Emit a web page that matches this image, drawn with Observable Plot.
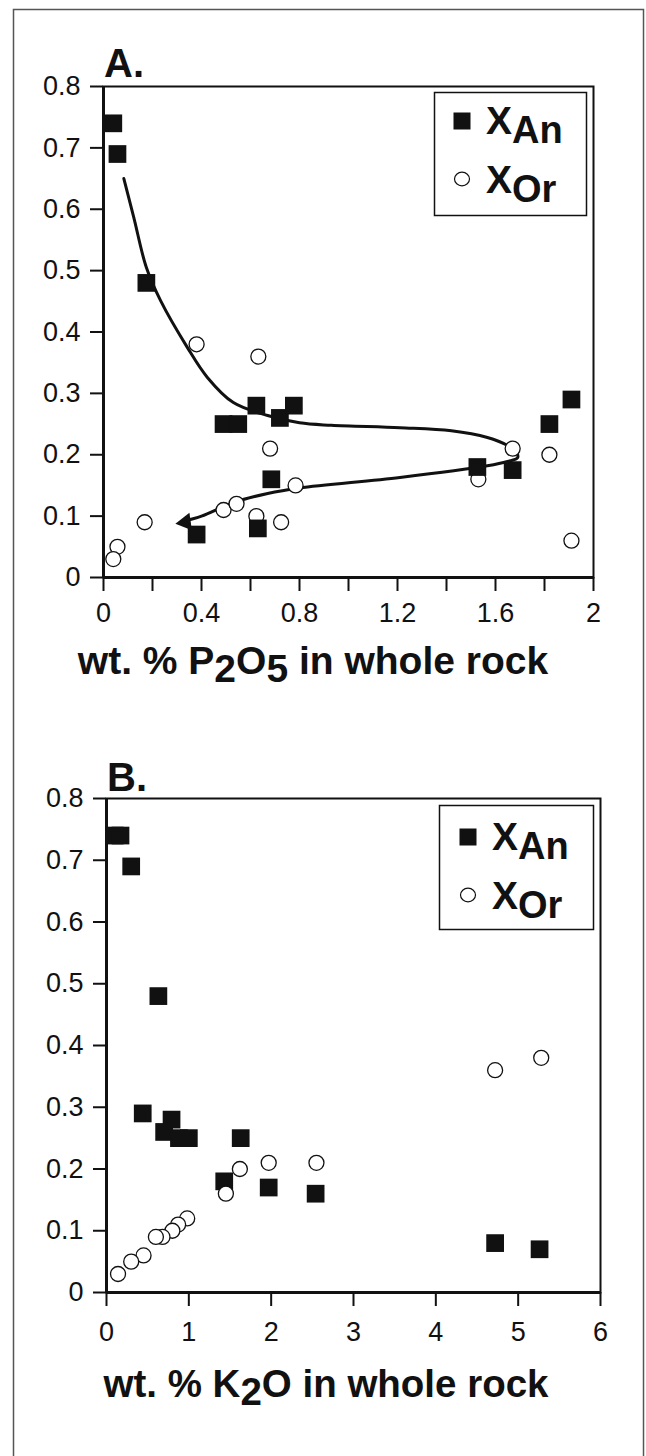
<!DOCTYPE html>
<html><head><meta charset="utf-8">
<script src="https://cdn.jsdelivr.net/npm/d3@7"></script>
<script src="https://cdn.jsdelivr.net/npm/@observablehq/plot@0.6"></script>
<style>
body{margin:0;background:#fff;}
#fig{position:relative;width:646px;height:1456px;overflow:hidden;font-family:"Liberation Sans",Arial,Helvetica,sans-serif;}
#fig > div.p{position:absolute;left:0;}
#overlay{position:absolute;left:0;top:0;pointer-events:none;}
#pa svg text, #pb svg text{font-size:27px !important;font-family:"Liberation Sans",Arial,Helvetica,sans-serif !important;}
</style></head>
<body><div id="fig"><div class="p" id="pa" style="top:40px"></div><div class="p" id="pb" style="top:750px"></div></div>
<script>
// ---------- Panel A data (x = wt.% P2O5) ----------
const anP2O5 = [0.04,0.057,0.175,0.49,0.55,0.624,0.72,0.777,0.685,0.38,0.63,1.526,1.67,1.82,1.91];
const anA    = [0.74,0.69,0.48,0.25,0.25,0.28,0.26,0.28,0.16,0.07,0.08,0.18,0.175,0.25,0.29];
const orP2O5 = [0.38,0.632,0.68,0.784,0.49,0.543,0.624,0.725,0.168,0.057,0.04,1.67,1.53,1.82,1.91];
const orA    = [0.38,0.36,0.21,0.15,0.11,0.12,0.10,0.09,0.09,0.05,0.03,0.21,0.16,0.20,0.06];
// hand-drawn trend curve (upper branch down to the turn, then lower branch back left)
const trendX = [0.083,0.124,0.175,0.233,0.342,0.424,0.53,0.67,0.80,0.93,1.21,1.42,1.567,1.649,1.686,1.69,1.649,1.567,1.21,0.80,0.67,0.53,0.40,0.33];
const trendY = [0.65,0.586,0.505,0.451,0.375,0.326,0.285,0.264,0.252,0.248,0.244,0.239,0.228,0.215,0.204,0.195,0.189,0.182,0.163,0.146,0.137,0.122,0.10,0.092];
const arrowX = [0.335];
const arrowY = [0.09];
const xTicksA = [0,0.4,0.8,1.2,1.6,2];
const xLabelsA = ["0","0.4","0.8","1.2","1.6","2"];
const xMinorA = [0.2,0.6,1.0,1.4,1.8];

// ---------- Panel B data (x = wt.% K2O) ----------
const anK2O = [0.10,0.17,0.30,0.63,0.44,0.79,0.70,0.88,1.0,1.63,1.43,1.97,2.54,4.72,5.26];
const anB   = [0.74,0.74,0.69,0.48,0.29,0.28,0.26,0.25,0.25,0.25,0.18,0.17,0.16,0.08,0.07];
const orK2O = [4.72,5.28,2.55,1.97,1.62,1.45,0.98,0.87,0.80,0.68,0.60,0.45,0.30,0.14];
const orB   = [0.36,0.38,0.21,0.21,0.20,0.16,0.12,0.11,0.10,0.09,0.09,0.06,0.05,0.03];
const xTicksB = [0,1,2,3,4,5,6];
const xLabelsB = ["0","1","2","3","4","5","6"];

// shared y ticks
const yTicks = [0,0.1,0.2,0.3,0.4,0.5,0.6,0.7,0.8];
const yLabels = ["0","0.1","0.2","0.3","0.4","0.5","0.6","0.7","0.8"];

const FONT = '"Liberation Sans", Arial, Helvetica, sans-serif';
const INK = "#111";
const zip = (xs, ys) => xs.map((x, i) => ({x, y: ys[i]}));
const fmt = (ticks, labels) => d => labels[ticks.indexOf(d)];

function panel({xdomain, xticks, xlabels, xminor, an, or, trend, arrow, mt, mb, ml, mr, circlesOnTop, xPad}) {
  const marks = [
    Plot.frame({stroke: INK, strokeWidth: 2}),
    Plot.axisY({ticks: yTicks, tickFormat: fmt(yTicks, yLabels), tickSize: 13, tickPadding: 10, strokeWidth: 2, label: null}),
    Plot.axisX({ticks: xticks, tickFormat: fmt(xticks, xlabels), tickSize: 14, tickPadding: xPad, strokeWidth: 2, label: null}),
  ];
  if (xminor) marks.push(Plot.axisX({ticks: xminor, text: null, tickSize: 14, strokeWidth: 2, label: null}));
  marks.push(Plot.ruleX([xdomain[0]], {stroke: INK, strokeWidth: 3}));
  marks.push(Plot.ruleY([0], {stroke: INK, strokeWidth: 3}));
  if (trend) {
    marks.push(Plot.line(trend, {x: "x", y: "y", curve: "catmull-rom", stroke: INK, strokeWidth: 3}));
    marks.push(Plot.dot(arrow, {x: "x", y: "y", symbol: "triangle2", r: 8.5, rotate: -98, fill: INK}));
  }
  const sq = Plot.dot(an, {x: "x", y: "y", symbol: "square", r: 10, fill: INK});
  const ci = Plot.dot(or, {x: "x", y: "y", symbol: "circle", r: 7.5, fill: "white", stroke: INK, strokeWidth: 1.3});
  if (circlesOnTop) marks.push(sq, ci); else marks.push(ci, sq);
  return Plot.plot({
    width: 646, height: 600,
    marginTop: mt, marginBottom: mb, marginLeft: ml, marginRight: mr,
    x: {domain: xdomain, label: null},
    y: {domain: [0, 0.8], label: null},
    style: {fontFamily: FONT, fontSize: "27px", color: INK, background: "transparent"},
    marks
  });
}

document.getElementById("pa").append(panel({
  xdomain: [0, 2], xticks: xTicksA, xlabels: xLabelsA, xminor: xMinorA,
  an: zip(anP2O5, anA), or: zip(orP2O5, orA), trend: zip(trendX, trendY), arrow: zip(arrowX, arrowY),
  mt: 46, mb: 63, ml: 103, mr: 53, circlesOnTop: false, xPad: 11
}));
document.getElementById("pb").append(panel({
  xdomain: [0, 6], xticks: xTicksB, xlabels: xLabelsB, xminor: null,
  an: zip(anK2O, anB), or: zip(orK2O, orB), trend: null, arrow: null,
  mt: 48, mb: 58, ml: 106, mr: 46, circlesOnTop: true, xPad: 15
}));

// ---------- overlay: border, panel letters, legends, axis titles ----------
const svg = d3.select("#fig").append("svg").attr("id", "overlay")
  .attr("width", 646).attr("height", 1456).attr("font-family", FONT).attr("fill", INK);
svg.append("rect").attr("x", 13.5).attr("y", 9.5).attr("width", 630).attr("height", 1452)
  .attr("fill", "none").attr("stroke", "#555").attr("stroke-width", 1.5);

const panelLetters = [{t: "A.", x: 104, y: 77}, {t: "B.", x: 107, y: 791}];
panelLetters.forEach(p => svg.append("text").attr("x", p.x).attr("y", p.y)
  .attr("font-size", 40).attr("font-weight", "bold").text(p.t));

const legendNames = [["X", "An"], ["X", "Or"]];
function legend(x0, y0, w, h, symX, rowY) {
  const g = svg.append("g");
  g.append("rect").attr("x", x0 + 0.5).attr("y", y0 + 0.5).attr("width", w).attr("height", h)
    .attr("fill", "white").attr("stroke", INK).attr("stroke-width", 1.5);
  g.append("rect").attr("x", symX - 8.5).attr("y", rowY[0] - 8.5 - 13).attr("width", 17).attr("height", 17).attr("fill", INK);
  g.append("ellipse").attr("cx", symX).attr("cy", rowY[1] - 14).attr("rx", 7.5).attr("ry", 6.8)
    .attr("fill", "white").attr("stroke", INK).attr("stroke-width", 1.2);
  legendNames.forEach((n, i) => {
    const t = g.append("text").attr("x", symX + 24).attr("y", rowY[i]).attr("font-weight", "bold").attr("font-size", 39);
    t.append("tspan").text(n[0]);
    t.append("tspan").attr("font-size", 38).attr("dy", 9).text(n[1]);
  });
}
legend(434, 92, 152, 123, 462, [134, 193]);
legend(439, 805, 154, 124, 468, [850, 909]);

function axisTitle(x, y, size, parts) {
  const t = svg.append("text").attr("x", x).attr("y", y).attr("text-anchor", "middle")
    .attr("font-size", size).attr("font-weight", "bold");
  let shifted = false;
  parts.forEach(p => {
    const sub = typeof p === "object";
    const s = t.append("tspan").text(sub ? p.sub : p);
    if (sub && !shifted) { s.attr("dy", 8); shifted = true; }
    else if (!sub && shifted) { s.attr("dy", -8); shifted = false; }
  });
}
axisTitle(313, 674, 39, ["wt. % P", {sub: "2"}, "O", {sub: "5"}, " in whole rock"]);
axisTitle(326, 1397, 38.5, ["wt. % K", {sub: "2"}, "O in whole rock"]);
</script></body></html>
